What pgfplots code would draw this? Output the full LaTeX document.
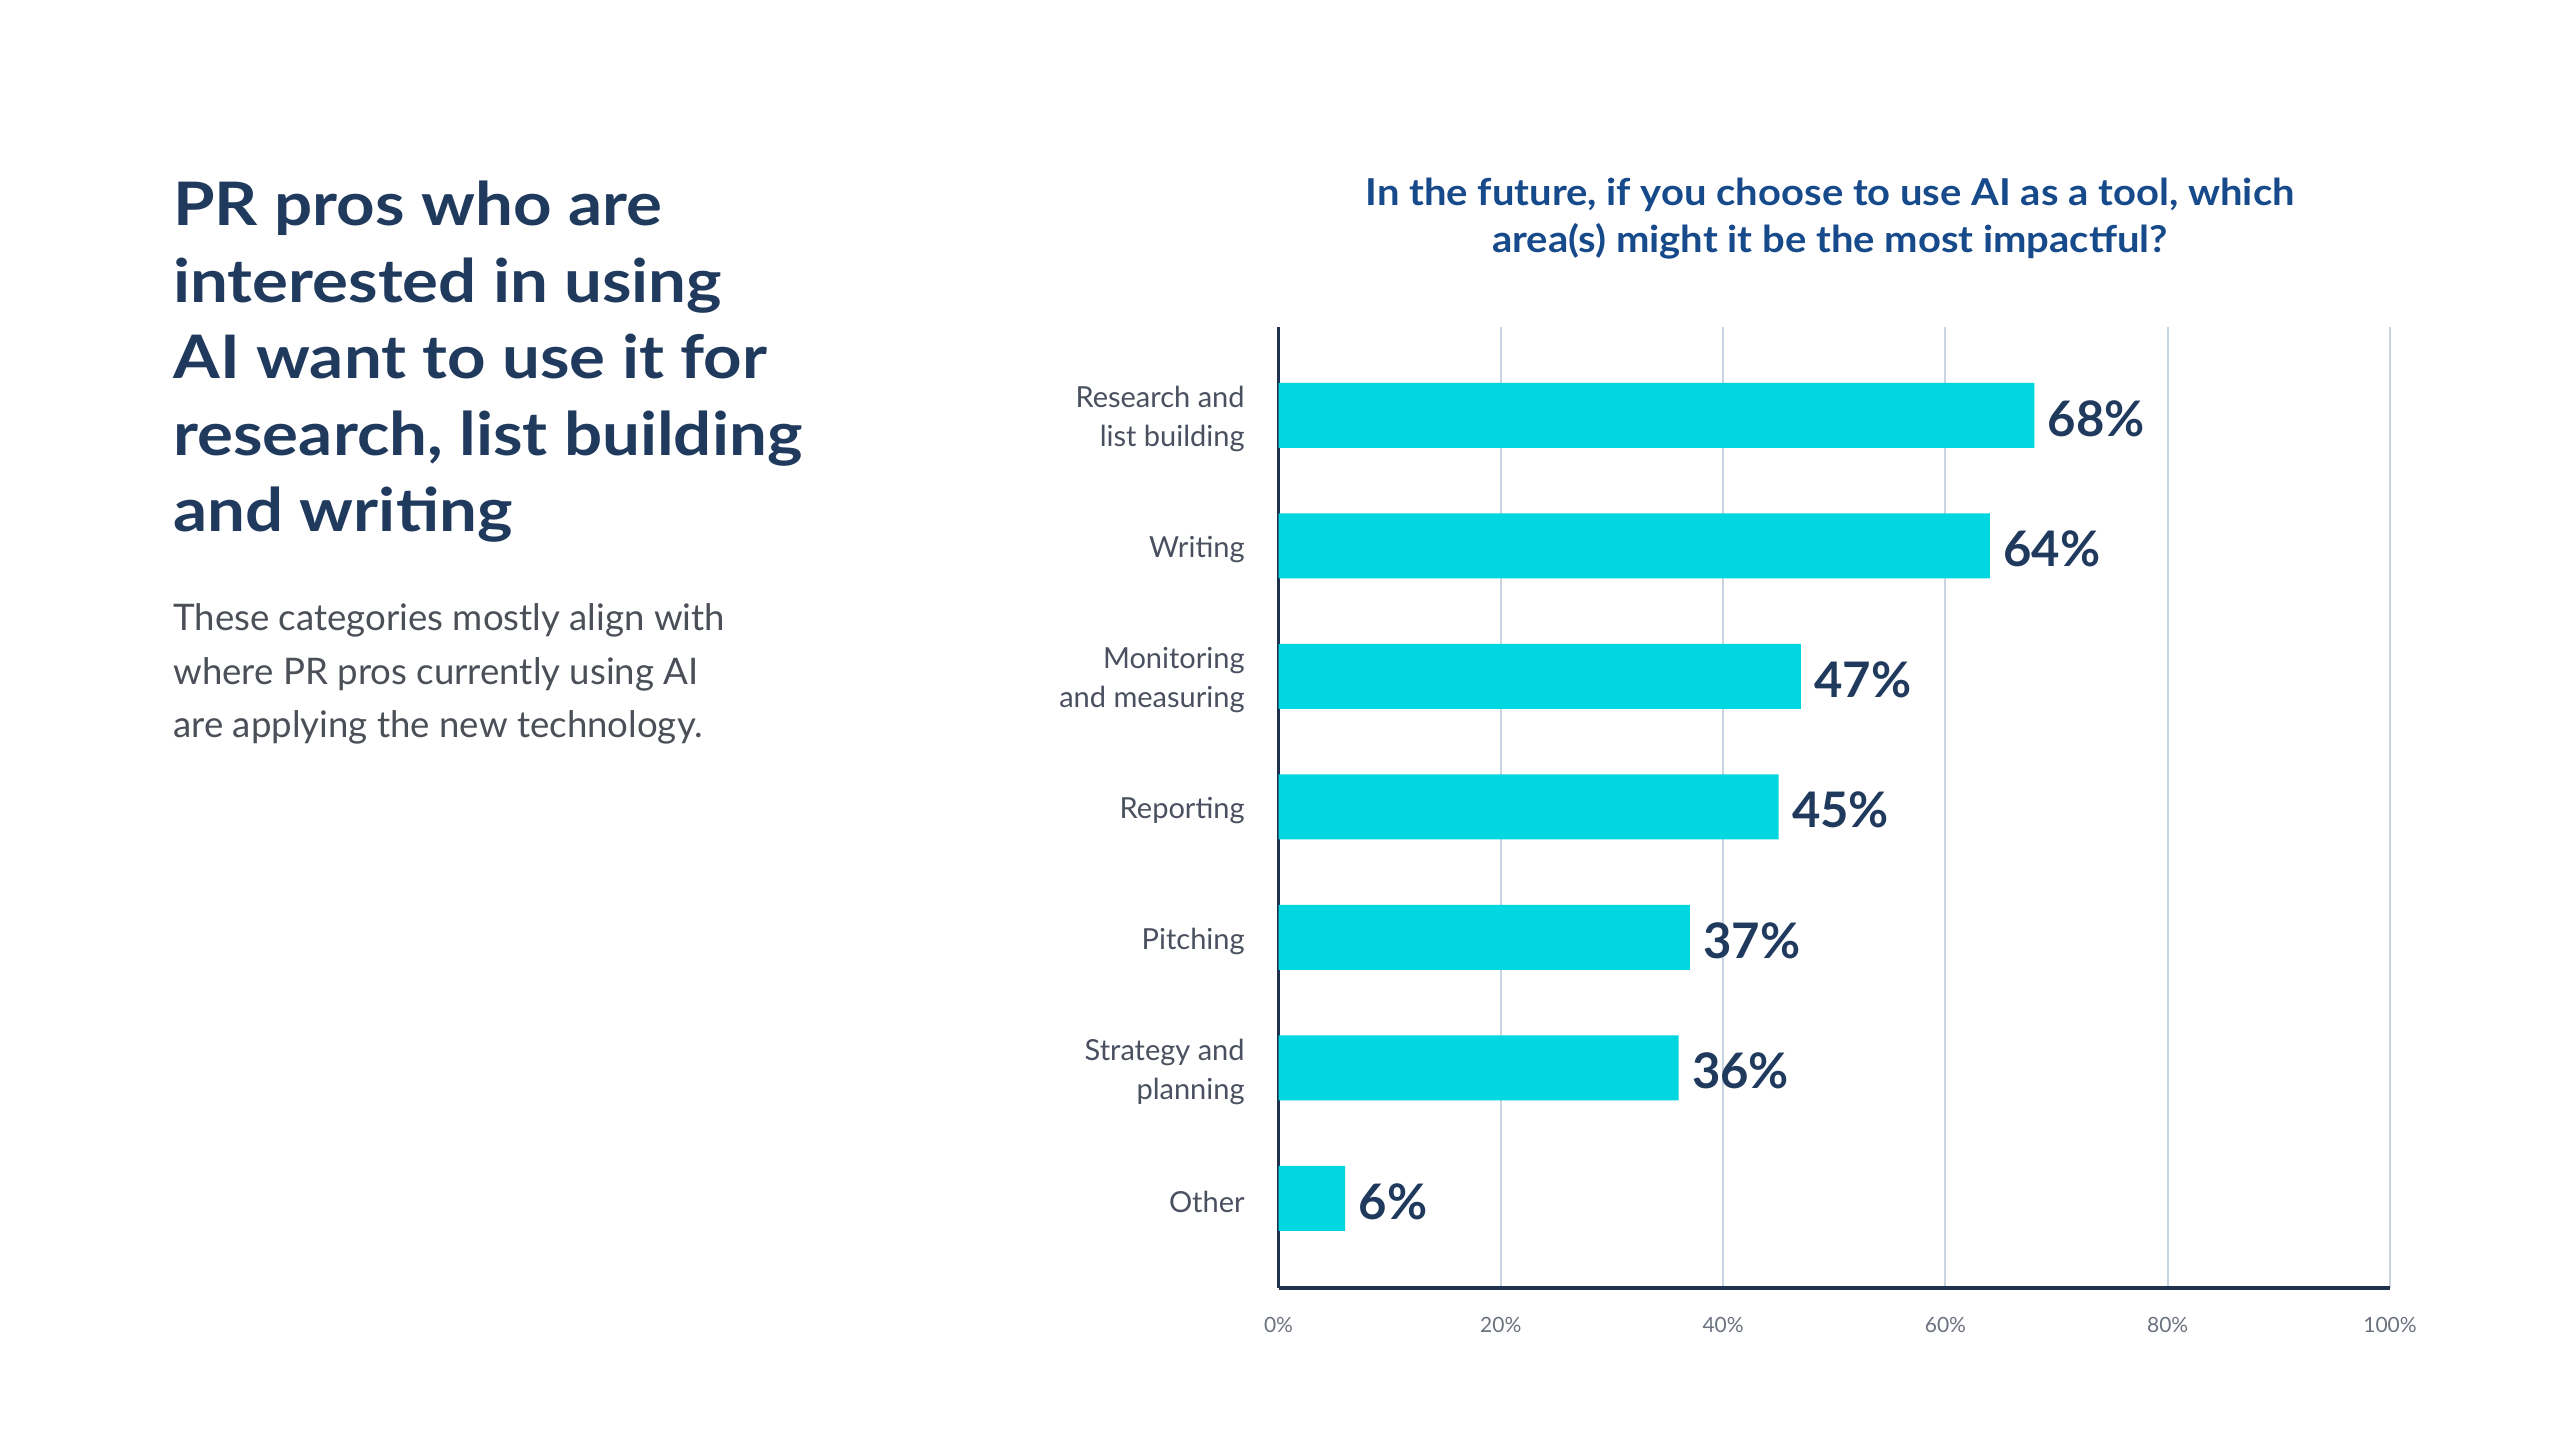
\documentclass[border=0pt]{standalone}
\usepackage{fontspec}
\setmainfont{Lato}
\newfontfamily\headfont[FakeStretch=1.12]{Lato}
\newfontfamily\titlefont[FakeStretch=1.08]{Lato}
\usepackage{pgfplots}
\pgfplotsset{compat=1.18}
\definecolor{navy}{HTML}{203A5E}
\definecolor{ctitle}{HTML}{174A8A}
\definecolor{barc}{HTML}{00D7E0}
\definecolor{bodyc}{HTML}{4B4F58}
\definecolor{axisc}{HTML}{1F3350}
\definecolor{gridc}{HTML}{C7D4E1}
\definecolor{tickc}{HTML}{6B7280}
\definecolor{ylab}{HTML}{4A5060}
\begin{document}
\begin{tikzpicture}[x=1pt,y=1pt]
\path[fill=white] (0,0) rectangle (1280,720);
% heading
\begin{scope}[every node/.style={anchor=base west, inner sep=0pt, text=navy, font=\headfont\fontsize{30}{36}\selectfont\bfseries}]
\node at (86.5,607.2) {PR pros who are};
\node at (86.5,568.95) {interested in using};
\node at (86.5,530.7) {AI want to use it for};
\node at (86.5,492.45) {research, list building};
\node at (86.5,454.2) {and writing};
\end{scope}
\begin{scope}[every node/.style={anchor=base west, inner sep=0pt, text=bodyc, font=\fontsize{18.3}{22}\selectfont}]
\node at (86.5,404.5) {These categories mostly align with};
\node at (86.5,377.8) {where PR pros currently using AI};
\node at (86.5,351.2) {are applying the new technology.};
\end{scope}
\begin{scope}[every node/.style={anchor=base, inner sep=0pt, text=ctitle, font=\titlefont\fontsize{18.5}{20}\selectfont\bfseries}]
\node at (915,617) {In the future, if you choose to use AI as a tool, which};
\node at (915,593.5) {area(s) might it be the most impactful?};
\end{scope}
\begin{axis}[
 at={(639.25pt,76pt)}, anchor=south west,
 scale only axis, width=555.75pt, height=480.5pt,
 /pgf/number format/assume math mode=true,
 xbar, bar width=0.498,
 xmin=0, xmax=100, ymin=-0.678, ymax=6.686, y dir=reverse,
 ytick={0,...,6},
 yticklabels={{Research and\\list building},{Writing},{Monitoring\\and measuring},{Reporting},{Pitching},{Strategy and\\planning},{Other}},
 yticklabel style={align=right, anchor=east, inner sep=0pt, xshift=-16.75pt, yshift=-1.8pt, font=\fontsize{14.5}{19.5}\selectfont, text=ylab},
 xtick={0,20,40,60,80,100},
 xticklabels={0\%,20\%,40\%,60\%,80\%,100\%},
 xticklabel style={anchor=base, inner sep=0pt, yshift=-22pt, font=\fontsize{10.5}{12}\selectfont, text=tickc},
 major tick length=0pt,
 xmajorgrids, grid style={line width=1pt, color=gridc},
 axis lines*=left,
 x axis line style={line width=2.2pt, color=axisc},
 y axis line style={line width=1.6pt, color=axisc},
 point meta=x,
 nodes near coords={\pgfmathprintnumber{\pgfplotspointmeta}\%},
 nodes near coords style={anchor=west, inner sep=0pt, xshift=6.5pt, yshift=-1.5pt, font=\fontsize{24.5}{26}\selectfont\bfseries, text=navy},
 clip=false,
]
\addplot[fill=barc, draw=none] coordinates {(68,0) (64,1) (47,2) (45,3) (37,4) (36,5) (6,6)};
\end{axis}
\end{tikzpicture}
\end{document}
